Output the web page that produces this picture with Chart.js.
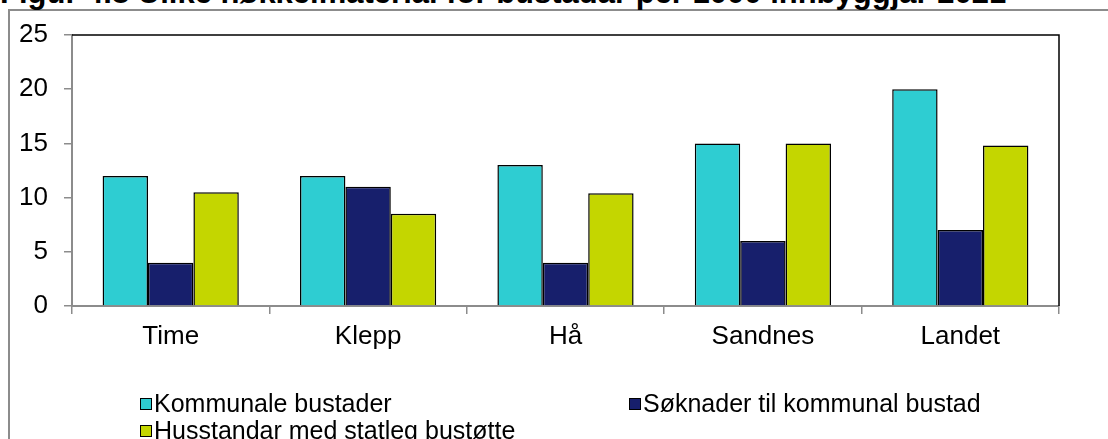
<!DOCTYPE html>
<html>
<head>
<meta charset="utf-8">
<script src="https://cdn.jsdelivr.net/npm/chart.js@4/dist/chart.umd.min.js"></script>
<style>
  html, body { margin: 0; padding: 0; background: #fff; overflow: hidden; }
  body { width: 1108px; height: 439px; position: relative; font-family: "Liberation Sans", Arial, sans-serif; }
  #frame { position: absolute; left: 8px; top: 9px; width: 1200px; height: 500px; border-left: 2px solid #8c8c8c; border-top: 2px solid #8c8c8c; box-sizing: border-box; }
  #title { position: absolute; left: 0px; top: -23px; font-weight: bold; font-size: 31px; line-height: 31px; white-space: nowrap; color: #000; }
  #wrap { position: absolute; left: 0; top: 0; width: 1108px; height: 439px; }
  .leg { position: absolute; font-size: 25px; line-height: 25px; white-space: nowrap; color: #000; display: flex; align-items: center; }
  .leg .box { width: 10px; height: 10px; border: 1.5px solid #000; margin-right: 2px; }
</style>
</head>
<body>
<div id="frame"></div>
<div id="title">Figur 4.8 Ulike nøkkelmaterial for bustadar per 1000 innbyggjar 2021</div>
<div id="wrap"><canvas id="c" width="1108" height="439"></canvas></div>
<div id="legend"></div>
<script>
const categories = ["Time", "Klepp", "Hå", "Sandnes", "Landet"];
const seriesNames = ["Kommunale bustader", "Søknader til kommunal bustad", "Husstandar med statleg bustøtte"];
const kommunaleBustader = [12, 12, 13, 15, 20];
const soknader = [4, 11, 4, 6, 7];
const bustotte = [10.5, 8.5, 10.4, 15, 14.8];
const yTicks = [0, 5, 10, 15, 20, 25];
const colors = ["#2ECDD2", "#171F6C", "#C4D600"];

const frameBorder = {
  id: 'frameBorder',
  afterDraw(chart) {
    const a = chart.chartArea, ctx = chart.ctx;
    ctx.save();
    ctx.strokeStyle = '#000';
    ctx.lineWidth = 1.5;
    ctx.beginPath();
    ctx.moveTo(a.left, a.top);
    ctx.lineTo(a.right, a.top);
    ctx.lineTo(a.right, a.bottom);
    ctx.stroke();
    ctx.restore();
  }
};

const allSeries = [kommunaleBustader, soknader, bustotte];
new Chart(document.getElementById('c'), {
  type: 'bar',
  data: {
    labels: categories,
    datasets: allSeries.map((d, i) => ({
      label: seriesNames[i],
      data: d,
      backgroundColor: colors[i],
      borderColor: '#000',
      borderWidth: 1.5,
      categoryPercentage: 0.69,
      barPercentage: 1.0
    }))
  },
  options: {
    responsive: false,
    animation: false,
    layout: { padding: { left: 0, top: 35, right: 49, bottom: 0 } },
    plugins: { legend: { display: false }, title: { display: false }, tooltip: { enabled: false } },
    scales: {
      x: {
        afterFit(s) { s.height = 133; },
        grid: { offset: true, drawOnChartArea: false, tickLength: 8, color: '#8c8c8c', lineWidth: 1.5 },
        border: { color: '#8c8c8c', width: 2 },
        ticks: { color: '#000', font: { family: 'Liberation Sans', size: 26 }, padding: 7 }
      },
      y: {
        min: 0, max: 25,
        afterFit(s) { s.width = 72; },
        afterBuildTicks(s) { s.ticks = yTicks.map(v => ({ value: v })); },
        grid: { drawOnChartArea: false, tickLength: 8, color: '#8c8c8c', lineWidth: 1.5 },
        border: { color: '#8c8c8c', width: 2 },
        ticks: { color: '#000', font: { family: 'Liberation Sans', size: 26 }, padding: 16 }
      }
    }
  },
  plugins: [frameBorder]
});

// HTML legend
const legendPos = [[140, 391], [629, 391], [140, 418]];
const lg = document.getElementById('legend');
seriesNames.forEach((n, i) => {
  const d = document.createElement('div');
  d.className = 'leg';
  d.style.left = legendPos[i][0] + 'px';
  d.style.top = legendPos[i][1] + 'px';
  const b = document.createElement('span');
  b.className = 'box';
  b.style.background = colors[i];
  const t = document.createElement('span');
  t.textContent = n;
  d.appendChild(b); d.appendChild(t);
  lg.appendChild(d);
});
</script>
</body>
</html>
